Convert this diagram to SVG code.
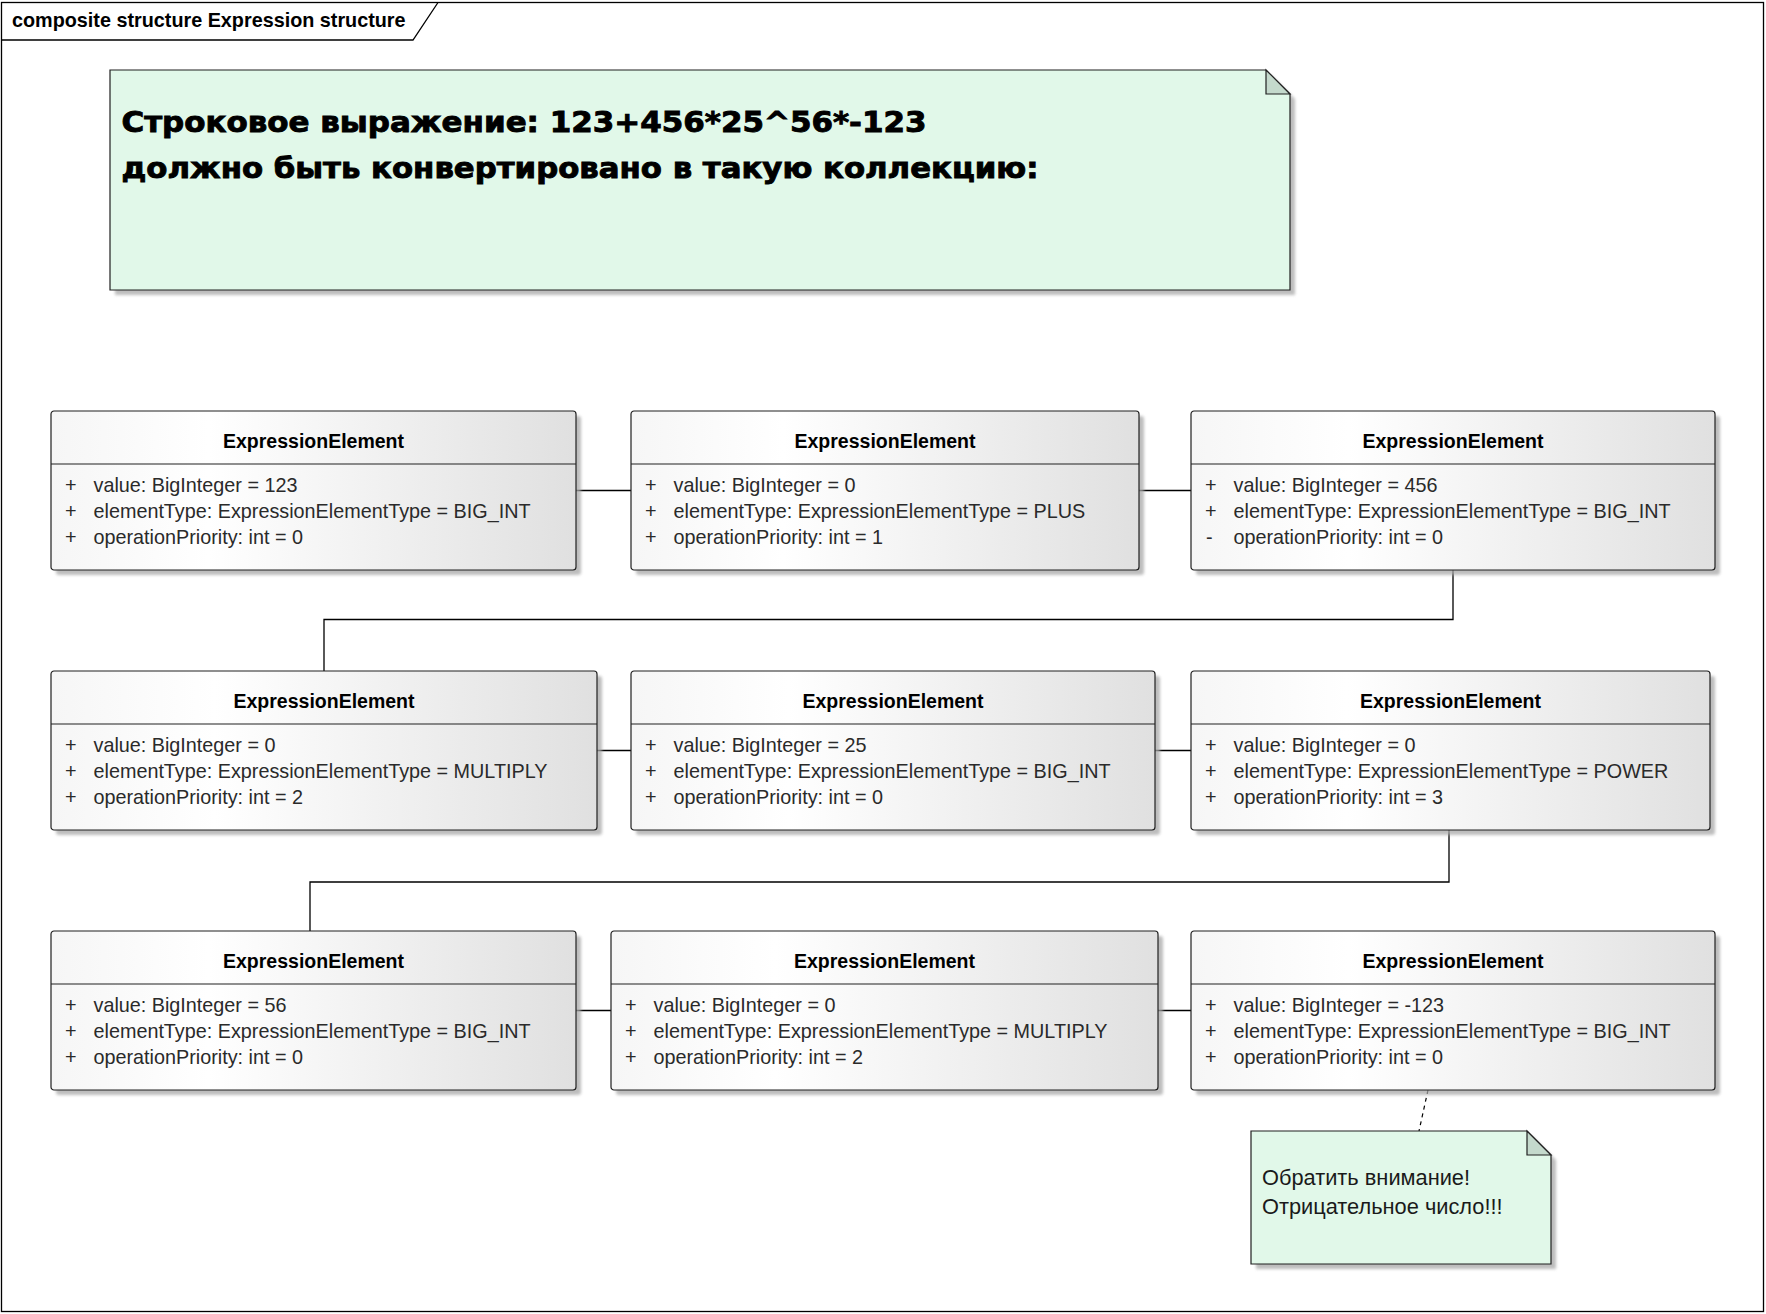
<svg xmlns="http://www.w3.org/2000/svg" width="1766" height="1314" viewBox="0 0 1766 1314">
<defs>
<linearGradient id="boxg" x1="0" y1="0" x2="1" y2="0">
<stop offset="0" stop-color="#F6F6F6"/>
<stop offset="0.3" stop-color="#FFFFFF"/>
<stop offset="1" stop-color="#E0E0E0"/>
</linearGradient>
<filter id="blur" x="-5%" y="-5%" width="110%" height="110%">
<feGaussianBlur stdDeviation="1.6"/>
</filter>
<style>
.frame{fill:#FFFFFF;stroke:#000;stroke-width:1.3}
.tab{fill:none;stroke:#000;stroke-width:1.3}
.title{font-family:"Liberation Sans",Arial,sans-serif;font-weight:bold;font-size:19.8px;fill:#000}
.shadow{fill:#A8A8A8;opacity:0.75;filter:url(#blur)}
.box{fill:url(#boxg);stroke:#202020;stroke-width:1.2}
.div{stroke:#202020;stroke-width:1.2}
.hdr{font-family:"Liberation Sans",Arial,sans-serif;font-weight:bold;font-size:19.5px;fill:#000;text-anchor:middle}
.attr{font-family:"Liberation Sans",Arial,sans-serif;font-size:19.8px;fill:#2a2a2a}
.note{fill:#E1F8E9;stroke:#202020;stroke-width:1.2}
.fold{fill:#C4D9CC;stroke:#202020;stroke-width:1.2;stroke-linejoin:miter}
.bigtxt{font-family:"DejaVu Sans",Verdana,sans-serif;font-weight:bold;font-size:28px;fill:#000;stroke:#000;stroke-width:0.9}
.smtxt{font-family:"Liberation Sans",Arial,sans-serif;font-size:21.8px;fill:#1a1a1a}
.conn{fill:none;stroke:#000;stroke-width:1.3}
.dash{fill:none;stroke:#000;stroke-width:1.2;stroke-dasharray:4 4}
</style>
</defs>

<g id="frame">
<rect class="frame" x="1.5" y="2.5" width="1762" height="1309"/>
<polyline class="tab" points="1.5,40 413,40 438,2.5"/>
<text class="title" x="12" y="26.5">composite structure Expression structure</text>
</g>

<g id="note-main">
<path class="shadow" d="M115,75 H1271 L1295,99 V295 H115 Z"/>
<path class="note" d="M110,70 H1266 L1290,94 V290 H110 Z"/>
<path class="fold" d="M1266,70 V94 H1290 Z"/>
<text class="bigtxt" x="121.5" y="132" textLength="805" lengthAdjust="spacingAndGlyphs">Строковое выражение: 123+456*25^56*-123</text>
<text class="bigtxt" x="121.5" y="178" textLength="917" lengthAdjust="spacingAndGlyphs">должно быть конвертировано в такую коллекцию:</text>
</g>

<g id="connectors">
<polyline class="conn" points="575.5,490.5 631,490.5"/>
<polyline class="conn" points="1139,490.5 1191,490.5"/>
<polyline class="conn" points="1453,570 1453,619.5 324,619.5 324,671"/>
<polyline class="conn" points="597,750.5 631,750.5"/>
<polyline class="conn" points="1155,750.5 1191,750.5"/>
<polyline class="conn" points="1449,830 1449,882 310,882 310,931"/>
<polyline class="conn" points="576,1010.5 611,1010.5"/>
<polyline class="conn" points="1158,1010.5 1191,1010.5"/>
<line class="dash" x1="1428" y1="1090" x2="1419" y2="1131"/>
</g>

<g id="el1" transform="translate(51,411)">
<rect class="shadow" x="5" y="5" width="525" height="159" rx="3"/>
<rect class="box" x="0" y="0" width="525" height="159" rx="3"/>
<line class="div" x1="0" y1="53" x2="525" y2="53"/>
<text class="hdr" x="262.5" y="37">ExpressionElement</text>
<text class="attr" x="14" y="81">+</text><text class="attr" x="42.5" y="81">value: BigInteger = 123</text>
<text class="attr" x="14" y="107">+</text><text class="attr" x="42.5" y="107">elementType: ExpressionElementType = BIG_INT</text>
<text class="attr" x="14" y="133">+</text><text class="attr" x="42.5" y="133">operationPriority: int = 0</text>
</g>

<g id="el2" transform="translate(631,411)">
<rect class="shadow" x="5" y="5" width="508" height="159" rx="3"/>
<rect class="box" x="0" y="0" width="508" height="159" rx="3"/>
<line class="div" x1="0" y1="53" x2="508" y2="53"/>
<text class="hdr" x="254" y="37">ExpressionElement</text>
<text class="attr" x="14" y="81">+</text><text class="attr" x="42.5" y="81">value: BigInteger = 0</text>
<text class="attr" x="14" y="107">+</text><text class="attr" x="42.5" y="107">elementType: ExpressionElementType = PLUS</text>
<text class="attr" x="14" y="133">+</text><text class="attr" x="42.5" y="133">operationPriority: int = 1</text>
</g>

<g id="el3" transform="translate(1191,411)">
<rect class="shadow" x="5" y="5" width="524" height="159" rx="3"/>
<rect class="box" x="0" y="0" width="524" height="159" rx="3"/>
<line class="div" x1="0" y1="53" x2="524" y2="53"/>
<text class="hdr" x="262" y="37">ExpressionElement</text>
<text class="attr" x="14" y="81">+</text><text class="attr" x="42.5" y="81">value: BigInteger = 456</text>
<text class="attr" x="14" y="107">+</text><text class="attr" x="42.5" y="107">elementType: ExpressionElementType = BIG_INT</text>
<text class="attr" x="15" y="133">-</text><text class="attr" x="42.5" y="133">operationPriority: int = 0</text>
</g>

<g id="el4" transform="translate(51,671)">
<rect class="shadow" x="5" y="5" width="546" height="159" rx="3"/>
<rect class="box" x="0" y="0" width="546" height="159" rx="3"/>
<line class="div" x1="0" y1="53" x2="546" y2="53"/>
<text class="hdr" x="273" y="37">ExpressionElement</text>
<text class="attr" x="14" y="81">+</text><text class="attr" x="42.5" y="81">value: BigInteger = 0</text>
<text class="attr" x="14" y="107">+</text><text class="attr" x="42.5" y="107">elementType: ExpressionElementType = MULTIPLY</text>
<text class="attr" x="14" y="133">+</text><text class="attr" x="42.5" y="133">operationPriority: int = 2</text>
</g>

<g id="el5" transform="translate(631,671)">
<rect class="shadow" x="5" y="5" width="524" height="159" rx="3"/>
<rect class="box" x="0" y="0" width="524" height="159" rx="3"/>
<line class="div" x1="0" y1="53" x2="524" y2="53"/>
<text class="hdr" x="262" y="37">ExpressionElement</text>
<text class="attr" x="14" y="81">+</text><text class="attr" x="42.5" y="81">value: BigInteger = 25</text>
<text class="attr" x="14" y="107">+</text><text class="attr" x="42.5" y="107">elementType: ExpressionElementType = BIG_INT</text>
<text class="attr" x="14" y="133">+</text><text class="attr" x="42.5" y="133">operationPriority: int = 0</text>
</g>

<g id="el6" transform="translate(1191,671)">
<rect class="shadow" x="5" y="5" width="519" height="159" rx="3"/>
<rect class="box" x="0" y="0" width="519" height="159" rx="3"/>
<line class="div" x1="0" y1="53" x2="519" y2="53"/>
<text class="hdr" x="259.5" y="37">ExpressionElement</text>
<text class="attr" x="14" y="81">+</text><text class="attr" x="42.5" y="81">value: BigInteger = 0</text>
<text class="attr" x="14" y="107">+</text><text class="attr" x="42.5" y="107">elementType: ExpressionElementType = POWER</text>
<text class="attr" x="14" y="133">+</text><text class="attr" x="42.5" y="133">operationPriority: int = 3</text>
</g>

<g id="el7" transform="translate(51,931)">
<rect class="shadow" x="5" y="5" width="525" height="159" rx="3"/>
<rect class="box" x="0" y="0" width="525" height="159" rx="3"/>
<line class="div" x1="0" y1="53" x2="525" y2="53"/>
<text class="hdr" x="262.5" y="37">ExpressionElement</text>
<text class="attr" x="14" y="81">+</text><text class="attr" x="42.5" y="81">value: BigInteger = 56</text>
<text class="attr" x="14" y="107">+</text><text class="attr" x="42.5" y="107">elementType: ExpressionElementType = BIG_INT</text>
<text class="attr" x="14" y="133">+</text><text class="attr" x="42.5" y="133">operationPriority: int = 0</text>
</g>

<g id="el8" transform="translate(611,931)">
<rect class="shadow" x="5" y="5" width="547" height="159" rx="3"/>
<rect class="box" x="0" y="0" width="547" height="159" rx="3"/>
<line class="div" x1="0" y1="53" x2="547" y2="53"/>
<text class="hdr" x="273.5" y="37">ExpressionElement</text>
<text class="attr" x="14" y="81">+</text><text class="attr" x="42.5" y="81">value: BigInteger = 0</text>
<text class="attr" x="14" y="107">+</text><text class="attr" x="42.5" y="107">elementType: ExpressionElementType = MULTIPLY</text>
<text class="attr" x="14" y="133">+</text><text class="attr" x="42.5" y="133">operationPriority: int = 2</text>
</g>

<g id="el9" transform="translate(1191,931)">
<rect class="shadow" x="5" y="5" width="524" height="159" rx="3"/>
<rect class="box" x="0" y="0" width="524" height="159" rx="3"/>
<line class="div" x1="0" y1="53" x2="524" y2="53"/>
<text class="hdr" x="262" y="37">ExpressionElement</text>
<text class="attr" x="14" y="81">+</text><text class="attr" x="42.5" y="81">value: BigInteger = -123</text>
<text class="attr" x="14" y="107">+</text><text class="attr" x="42.5" y="107">elementType: ExpressionElementType = BIG_INT</text>
<text class="attr" x="14" y="133">+</text><text class="attr" x="42.5" y="133">operationPriority: int = 0</text>
</g>

<g id="note-negative">
<path class="shadow" d="M1256,1136 H1532 L1556,1160 V1269 H1256 Z"/>
<path class="note" d="M1251,1131 H1527 L1551,1155 V1264 H1251 Z"/>
<path class="fold" d="M1527,1131 V1155 H1551 Z"/>
<text class="smtxt" x="1262" y="1185">Обратить внимание!</text>
<text class="smtxt" x="1262" y="1214">Отрицательное число!!!</text>
</g>
</svg>
